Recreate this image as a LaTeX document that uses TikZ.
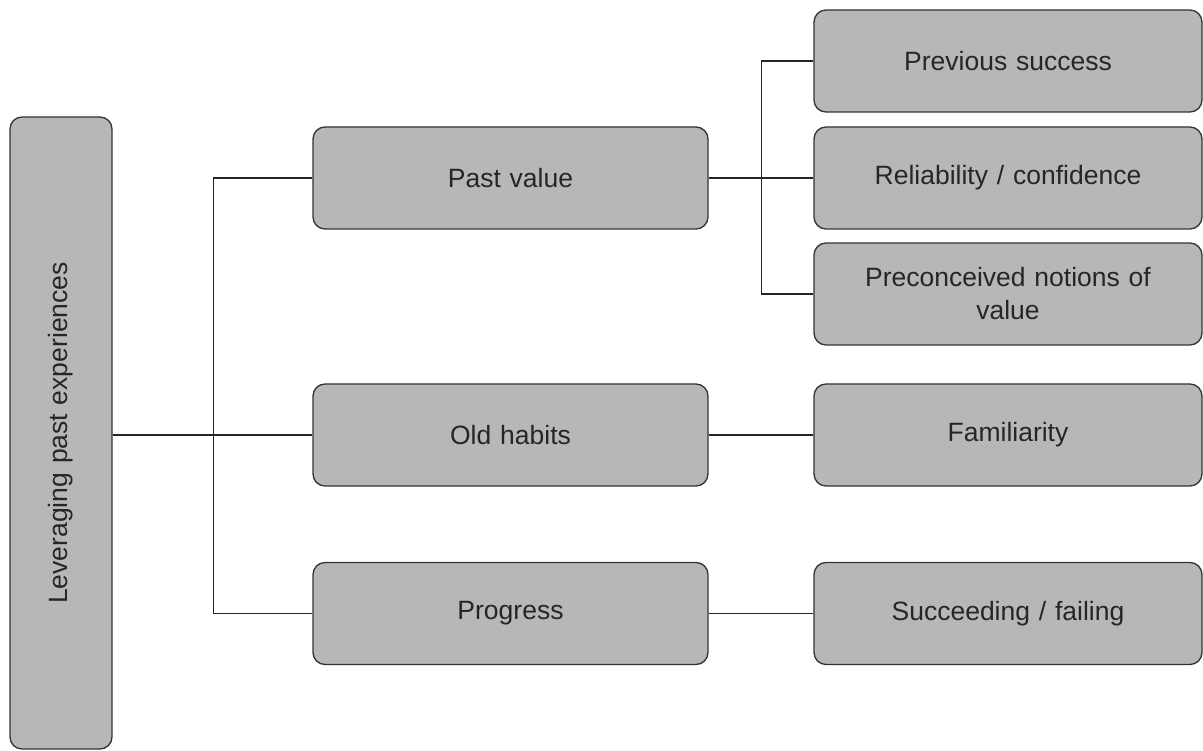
\documentclass[tikz,border=0pt]{standalone}
\usepackage{fontspec}
\setmainfont{Liberation Sans}
\begin{document}
\begin{tikzpicture}[x=1pt,y=-1pt,
  box/.style={draw=black!80, line width=1.3pt, fill=boxgray, rounded corners=12pt, minimum width=395pt, minimum height=102pt, align=center, text width=370pt, font=\fontsize{26.5}{33}\selectfont, text=black!85, inner sep=0pt},
  rbox/.style={box, minimum width=388pt},
  conn/.style={draw=black!85, line width=1.2pt}]
\definecolor{boxgray}{HTML}{B7B7B7}
\useasboundingbox (0,0) rectangle (1203,751);
\node[box, minimum width=632pt, minimum height=102pt, text width=600pt, rotate=90] (L) at (61,433) {Leveraging past experiences};
\node[box] (PV) at (510.5,178) {Past value};
\node[box] (OH) at (510.5,435) {Old habits};
\node[box] (PR) at (510.5,613.5) {Progress};
\node[rbox] (PS) at (1008,61) {Previous success};
\node[rbox] (RC) at (1008,178) {Reliability / confidence};
\node[rbox] (PN) at (1008,294) {Preconceived notions of\\value};
\node[rbox] (FA) at (1008,435) {Familiarity};
\node[rbox] (SF) at (1008,613.5) {Succeeding / failing};
\draw[conn] (L.south |- OH.west) -- (OH.west);
\draw[conn] (PV.west) -- ++(-99,0) coordinate (j1) |- (PR.west);
\draw[conn] (PV.east) -- (RC.west);
\draw[conn] (PS.west) -- ++(-52,0) coordinate (j2) |- (PN.west);
\draw[conn] (OH.east) -- (FA.west);
\draw[conn] (PR.east) -- (SF.west);
\end{tikzpicture}
\end{document}
